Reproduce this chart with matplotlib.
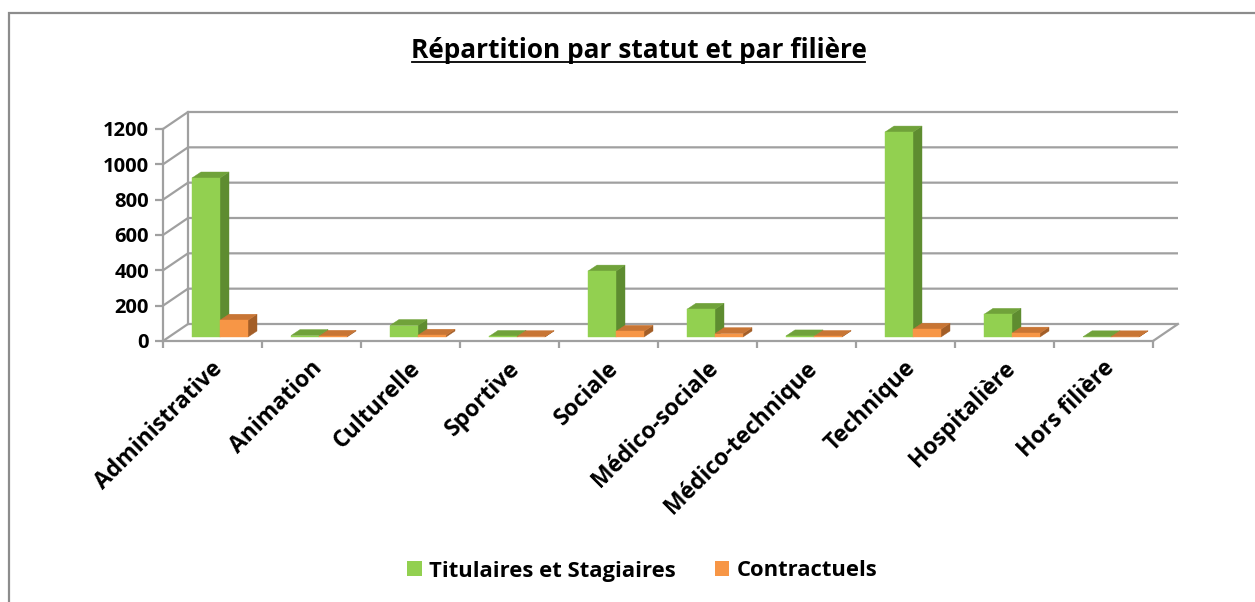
import matplotlib.pyplot as plt
from matplotlib.patches import Polygon, Rectangle, Patch
from matplotlib.transforms import ScaledTranslation

# data
categories = ['Administrative', 'Animation', 'Culturelle', 'Sportive', 'Sociale',
              'Médico-sociale', 'Médico-technique', 'Technique', 'Hospitalière', 'Hors filière']
titulaires = [900, 8, 65, 3, 373, 157, 6, 1160, 128, 1]
contractuels = [95, 4, 10, 2, 32, 19, 3, 44, 22, 1]
yticks = [0, 200, 400, 600, 800, 1000, 1200]

series = [
    ('Titulaires et Stagiaires', titulaires, ('#92D050', '#70A23A', '#5E8C30')),
    ('Contractuels', contractuels, ('#F79646', '#C87534', '#A35E27')),
]

W, H = 1255, 602
fig = plt.figure(figsize=(W / 100, H / 100), dpi=100)
plt.rcParams['font.family'] = ['Open Sans', 'DejaVu Sans']

# front plane of the plot area, in pixels
left, right, bottom, top = 163, 1153, 341, 129
ax = fig.add_axes([left / W, 1 - bottom / H, (right - left) / W, (bottom - top) / H])
ax.set_xlim(0, len(categories))
ax.set_ylim(0, 1200)
ax.patch.set_visible(False)

grid_c = '#A0A0A0'
px_x = len(categories) / (right - left)      # category units per pixel
px_y = 1200 / (bottom - top)                  # value units per pixel
DX, DY = 25 * px_x, 17 * px_y                 # depth of the floor

# back wall, side wall, floor
for v in yticks:
    ax.plot([0, DX, len(categories) + DX], [v, v + DY, v + DY], color=grid_c, lw=1.6,
            clip_on=False, zorder=1, solid_capstyle='butt')
ax.plot([DX, DX], [DY, 1200 + DY], color=grid_c, lw=1.6, clip_on=False, zorder=1)
ax.plot([len(categories), len(categories) + DX], [0, DY], color=grid_c, lw=1.6, clip_on=False, zorder=1)

for s in ['top', 'right']:
    ax.spines[s].set_visible(False)
for s in ['left', 'bottom']:
    ax.spines[s].set_color(grid_c)
    ax.spines[s].set_linewidth(1.6)

ax.set_yticks(yticks)
ax.set_yticklabels([str(v) for v in yticks], fontsize=14.5, fontweight='bold')
ax.tick_params(axis='y', length=6, width=1.6, color=grid_c, pad=4)
ax.set_xticks(range(len(categories) + 1))
ax.set_xticklabels([])
ax.tick_params(axis='x', length=5, width=1.6, color=grid_c)

# bars drawn as 3d-looking prisms
bar_w = 28 * px_x
bar_off = 29 * px_x
base = 4 * px_y
bdx, bdy = 9 * px_x, 6 * px_y
for k, (name, vals, (c_front, c_top, c_side)) in enumerate(series):
    for i, v in enumerate(vals):
        x0 = i + bar_off + k * bar_w
        x1 = x0 + bar_w
        y0, y1 = base, base + v
        side = [(x1, y0), (x1 + bdx, y0 + bdy), (x1 + bdx, y1 + bdy), (x1, y1)]
        topf = [(x0, y1), (x1, y1), (x1 + bdx, y1 + bdy), (x0 + bdx, y1 + bdy)]
        front = [(x0, y0), (x1, y0), (x1, y1), (x0, y1)]
        for pts, c in [(side, c_side), (topf, c_top), (front, c_front)]:
            ax.add_patch(Polygon(pts, closed=True, facecolor=c, edgecolor=c, lw=0.3,
                                 clip_on=False, zorder=3))

# category labels
off = ScaledTranslation(0.07, -0.24, fig.dpi_scale_trans)
for i, name in enumerate(categories):
    ax.text(i + 0.5, 0, name, rotation=45, ha='right', va='center', rotation_mode='anchor',
            fontsize=16.5, fontweight='bold', transform=ax.transData + off)

fig.text(638.5 / W, 1 - 58 / H, 'Répartition par statut et par filière', ha='center', va='baseline',
         fontsize=18.9, fontweight='bold')
fig.add_artist(plt.Line2D([412 / W, 865 / W], [1 - 61.5 / H, 1 - 61.5 / H], color='black', lw=1.3))

handles = [Patch(facecolor=c[0], edgecolor='none', label=n) for n, _, c in series]
fig.legend(handles=handles, loc='center', bbox_to_anchor=(642 / W, 1 - 571 / H), ncol=2, frameon=False,
           prop={'size': 15.8, 'weight': 'bold'}, handlelength=0.68, handleheight=0.68,
           handletextpad=0.32, columnspacing=1.78)

fig.add_artist(Rectangle((8.5 / W, -0.1), 1.2, 1 - 12.5 / H + 0.1, transform=fig.transFigure,
                         fill=False, edgecolor='#8C8C8C', lw=1.6, clip_on=False))

fig.savefig('out.png', dpi=100)
